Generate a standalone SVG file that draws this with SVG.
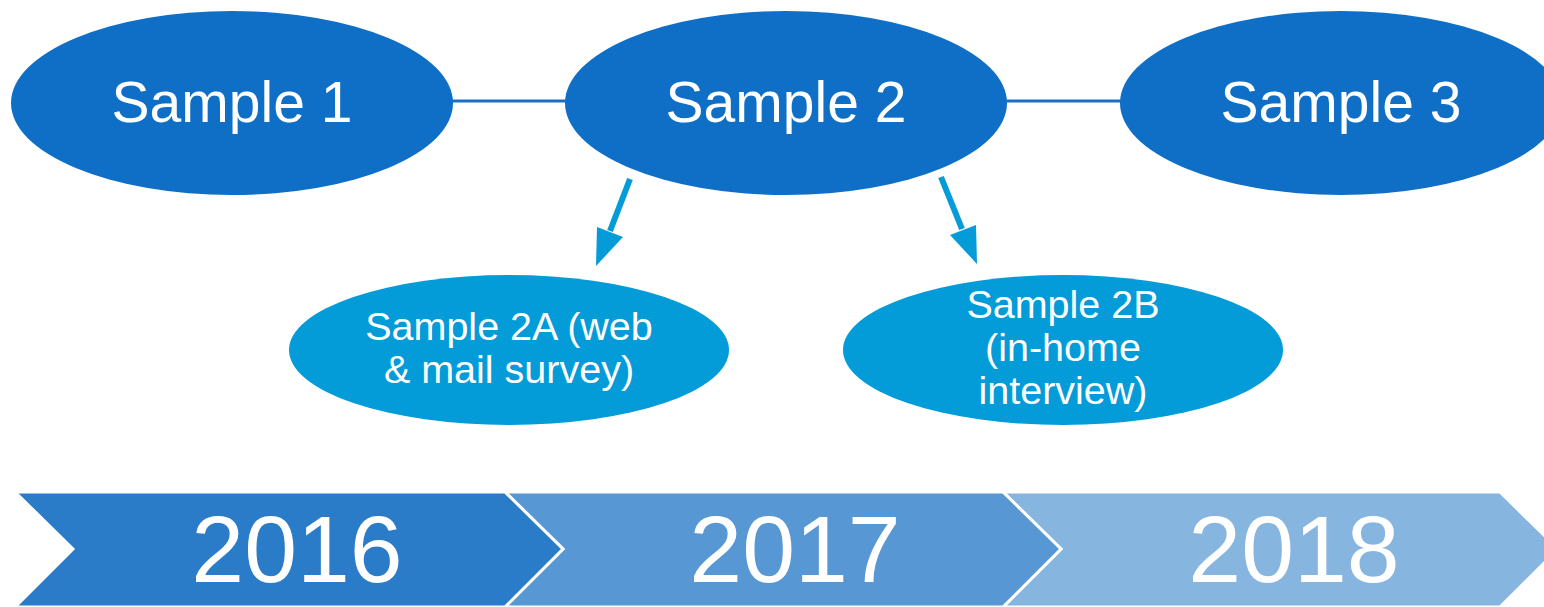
<svg xmlns="http://www.w3.org/2000/svg" width="1544" height="607" viewBox="0 0 1544 607">
  <style>
    .main { fill: #0f6fc6; }
    .sub { fill: #039bd8; }
    .t { fill: #ffffff; font-family: "Liberation Sans", Arial, sans-serif; text-anchor: middle; }
    .big { font-size: 57px; }
    .small { font-size: 39.5px; }
    .year { font-size: 95px; }
    .band { stroke: #ffffff; stroke-width: 3; }
    .link { stroke: #1a70c2; stroke-width: 3; fill: none; }
    .arrow { stroke: #039bd8; stroke-width: 6; fill: none; }
    .head { fill: #039bd8; }
  </style>

  <!-- timeline bands, drawn right to left so each chevron tip overlaps the next band -->
  <g id="year-2018">
    <polygon class="band" points="1003,492 1500,492 1558,549 1500,607 1003,607 1061,549" fill="#86b5e0"/>
    <text class="t year" x="1294" y="582">2018</text>
  </g>
  <g id="year-2017">
    <polygon class="band" points="505,492 1003,492 1061,549 1003,607 505,607 563,549" fill="#5797d4"/>
    <text class="t year" x="795" y="582">2017</text>
  </g>
  <g id="year-2016">
    <polygon class="band" points="15,492 505,492 563,549 505,607 15,607 73,549" fill="#2a7bc8"/>
    <text class="t year" x="297" y="582">2016</text>
  </g>

  <!-- connectors -->
  <g id="connectors">
    <line class="link" x1="450" y1="101" x2="570" y2="101"/>
    <line class="link" x1="1004" y1="101" x2="1124" y2="101"/>
    <line class="arrow" x1="630" y1="179" x2="610" y2="231"/>
    <polygon class="head" points="596,266 597,227 623,237"/>
    <line class="arrow" x1="941" y1="177" x2="962" y2="229"/>
    <polygon class="head" points="977,264 950,235 976,225"/>
  </g>

  <g id="sample-1">
    <ellipse class="main" cx="232" cy="103" rx="221" ry="92"/>
    <text class="t big" x="232" y="122">Sample 1</text>
  </g>
  <g id="sample-2">
    <ellipse class="main" cx="786" cy="103" rx="221" ry="92"/>
    <text class="t big" x="786" y="122">Sample 2</text>
  </g>
  <g id="sample-3">
    <ellipse class="main" cx="1341" cy="103" rx="221" ry="92"/>
    <text class="t big" x="1341" y="122">Sample 3</text>
  </g>
  <g id="sample-2a">
    <ellipse class="sub" cx="509" cy="350" rx="220" ry="75"/>
    <text class="t small" x="509" y="340">Sample 2A (web</text>
    <text class="t small" x="509" y="383">&amp; mail survey)</text>
  </g>
  <g id="sample-2b">
    <ellipse class="sub" cx="1063" cy="350" rx="220" ry="75"/>
    <text class="t small" x="1063" y="318">Sample 2B</text>
    <text class="t small" x="1063" y="361">(in-home</text>
    <text class="t small" x="1063" y="404">interview)</text>
  </g>
</svg>
